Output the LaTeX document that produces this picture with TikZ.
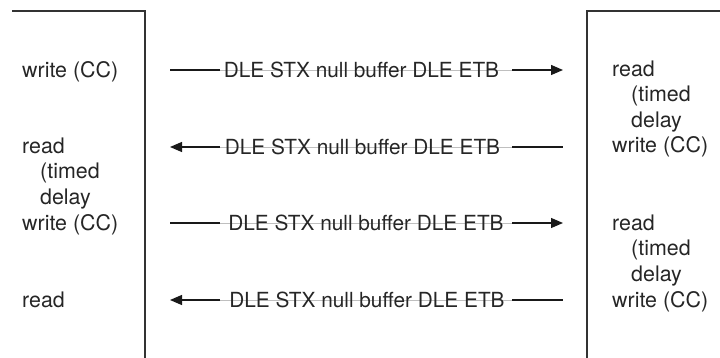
\documentclass[tikz,border=0pt]{standalone}
\usepackage{fontspec}
\setmainfont{TeX Gyre Heros}
\usetikzlibrary{arrows.meta}
\begin{document}
\begin{tikzpicture}[x=1pt,y=-1pt,
  txt/.style={font=\fontsize{21.4}{26}\selectfont, text=black!85, inner sep=0pt, anchor=base west},
  msg/.style={font=\fontsize{20.8}{25}\selectfont, text=black!85, inner sep=0pt, anchor=base},
  wall/.style={line width=2pt, draw=black!80},
  wire/.style={line width=1.3pt, draw=black!90},
  faint/.style={line width=0.5pt, draw=black!25},
  tip/.style={-{Triangle[length=12pt,width=10pt]}}
]
\useasboundingbox (0,0) rectangle (720,358);

% process boundaries
\draw[wall] (12,11) -- (144.5,11) -- (144.5,362);
\draw[wall] (720,11) -- (587,11) -- (587,362);

% left column
\node[txt] (l1) at (22,78) {write (CC)};
\node[txt] (l2) at (22,154) {read};
\node[txt] (l3) at (40,179) {(timed};
\node[txt] (l4) at (40,205) {delay};
\node[txt] (l5) at (22,230) {write (CC)};
\node[txt] (l6) at (22,307) {read};

% right column
\node[txt] (r1) at (612,77) {read};
\node[txt] (r2) at (631,102) {(timed};
\node[txt] (r3) at (631,128) {delay};
\node[txt] (r4) at (612,153) {write (CC)};
\node[txt] (r5) at (612,230) {read};
\node[txt] (r6) at (631,255) {(timed};
\node[txt] (r7) at (631,281) {delay};
\node[txt] (r8) at (612,307) {write (CC)};

% messages
\foreach \i/\y/\cx in {1/70/361.5, 2/147/362.5, 3/223/366, 4/300/367}{
  \coordinate (a\i) at (170,\y);
  \coordinate (b\i) at (220,\y);
  \coordinate (c\i) at (512,\y);
  \coordinate (d\i) at (563,\y);
  \draw[faint] (b\i) -- (c\i);
  \node[msg] (m\i) at (\cx,\y+7.5) {DLE STX null buffer DLE ETB};
}
\draw[wire] (a1) -- (b1);
\draw[wire, tip] (c1) -- (d1);
\draw[wire, tip] (b2) -- (a2);
\draw[wire] (c2) -- (d2);
\draw[wire] (a3) -- (b3);
\draw[wire, tip] (c3) -- (d3);
\draw[wire, tip] (b4) -- (a4);
\draw[wire] (c4) -- (d4);
\end{tikzpicture}
\end{document}
